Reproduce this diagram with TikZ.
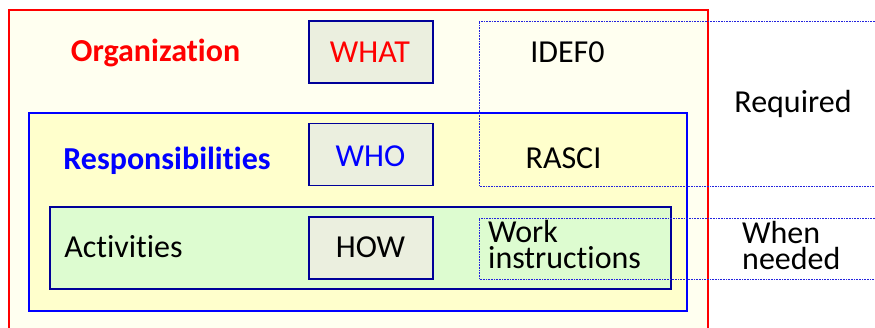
\documentclass[tikz,border=0pt]{standalone}
\usepackage{fontspec}
\setmainfont{Carlito}[Ligatures=NoCommon]
\definecolor{orgfill}{HTML}{FFFFF0}
\definecolor{respfill}{HTML}{FFFFCC}
\definecolor{actfill}{HTML}{DDFCD0}
\definecolor{keyfill}{HTML}{EBEFDF}
\definecolor{navyline}{HTML}{000099}
\definecolor{dotline}{HTML}{2222DD}
\begin{document}
\begin{tikzpicture}[x=1pt,y=-1pt,
  lbl/.style={font=\fontsize{32}{26}\selectfont, inner sep=0pt, anchor=base},
  keybox/.style={draw=navyline, fill=keyfill, line width=1.3pt,
    minimum width=124pt, minimum height=62pt, inner sep=0pt},
  scopeline/.style={draw=dotline, densely dotted, line width=0.6pt}]
 \useasboundingbox (0,0) rectangle (875,328);
 \clip (0,0) rectangle (875,328);
 % nested levels
 \draw[red, line width=2.6pt, fill=orgfill] (9,10) rectangle (708,345);
 \draw[blue, line width=1.6pt, fill=respfill] (29,113) rectangle (687,311);
 \draw[navyline, line width=1.4pt, fill=actfill] (50,207) rectangle (671,289);
 % question boxes
 \node[keybox] (what) at (371,52) {};
 \node[keybox] (who) at (371,154.5) {};
 \node[keybox] (how) at (371,248) {};
 % scope of the methods
 \draw[scopeline] (875,21) -- (479,21) -- (479,186) -- (875,186);
 \draw[scopeline] (875,218) -- (479,218) -- (479,279) -- (875,279);
 % labels
 \node[lbl, font=\fontsize{32}{26}\selectfont\bfseries, text=red] (org) at (155.5,62) {Organization};
 \node[lbl, text=red] (whatlbl) at (370,63) {WHAT};
 \node[lbl] (idef) at (567.5,63) {IDEF0};
 \node[lbl] (req) at (793,113) {Required};
 \node[lbl, font=\fontsize{32}{26}\selectfont\bfseries, text=blue] (resp) at (167,170) {Responsibilities};
 \node[lbl, text=blue] (wholbl) at (370.5,167) {WHO};
 \node[lbl] (rasci) at (563.5,169) {RASCI};
 \node[lbl] (act) at (123.5,258) {Activities};
 \node[lbl] (howlbl) at (370.5,258) {HOW};
 \node[lbl, anchor=base west, align=left] (work) at (488,269) {Work\\instructions};
 \node[lbl, anchor=base west, align=left] (when) at (742,270) {When\\needed};
\end{tikzpicture}
\end{document}
